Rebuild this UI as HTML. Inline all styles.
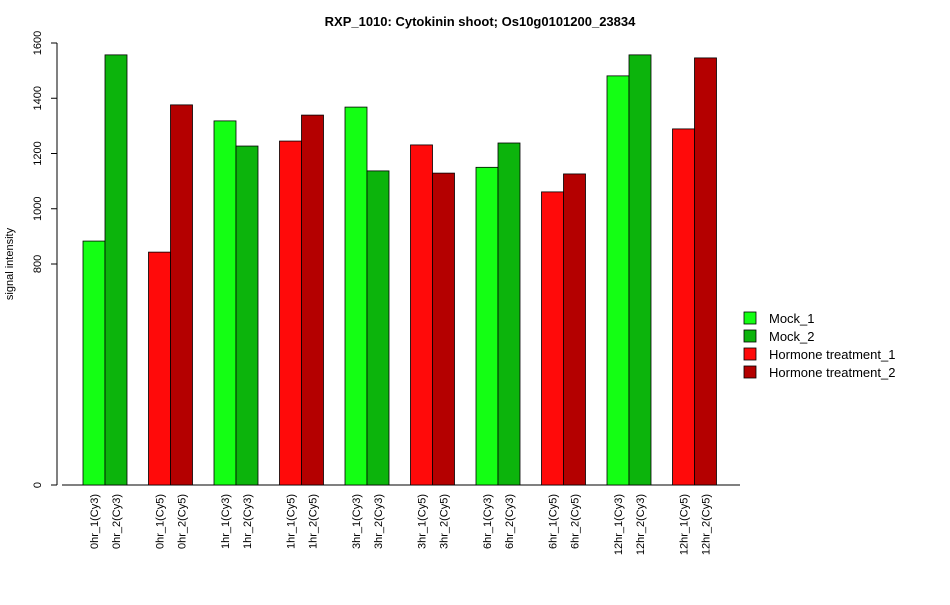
<!DOCTYPE html>
<html><head><meta charset="utf-8"><style>body{margin:0;background:#fff}svg{font-family:"Liberation Sans",sans-serif}</style></head>
<body>
<svg id="c" width="950" height="600">
<text x="480" y="26" text-anchor="middle" font-size="13" font-weight="bold">RXP_1010: Cytokinin shoot; Os10g0101200_23834</text>
<text transform="translate(13,264) rotate(-90)" text-anchor="middle" font-size="11">signal intensity</text>
</svg>
<script>
const categories=["0hr_1(Cy3)","0hr_2(Cy3)","0hr_1(Cy5)","0hr_2(Cy5)","1hr_1(Cy3)","1hr_2(Cy3)","1hr_1(Cy5)","1hr_2(Cy5)","3hr_1(Cy3)","3hr_2(Cy3)","3hr_1(Cy5)","3hr_2(Cy5)","6hr_1(Cy3)","6hr_2(Cy3)","6hr_1(Cy5)","6hr_2(Cy5)","12hr_1(Cy3)","12hr_2(Cy3)","12hr_1(Cy5)","12hr_2(Cy5)"];
const values=[883,1557,843,1376,1318,1227,1245,1339,1368,1137,1231,1129,1150,1238,1061,1126,1481,1557,1289,1546];
const seriesIndex=[0,1,2,3,0,1,2,3,0,1,2,3,0,1,2,3,0,1,2,3];
const seriesNames=["Mock_1","Mock_2","Hormone treatment_1","Hormone treatment_2"];
const colors=["#14ff14","#0cb40c","#ff0a0a","#b40000"];
const yTicks=[0,800,1000,1200,1400,1600];
const NS="http://www.w3.org/2000/svg",svg=document.getElementById('c');
function el(t,a,p){const e=document.createElementNS(NS,t);for(const k in a)e.setAttribute(k,a[k]);(p||svg).appendChild(e);return e;}
const y0=485,yTop=43,yMax=1600;
function ys(v){return y0-(v/yMax)*(y0-yTop);}
function xs(i){return 83+Math.floor(i/2)*65.5+(i%2)*22;}
const bw=22;
let a=el('line',{x1:57,x2:57,y1:ys(0),y2:ys(1600),stroke:'#000'});

yTicks.forEach(t=>{const l=el('line',{x1:51,x2:57,y1:ys(t),y2:ys(t),stroke:'#000'});

const tx=el('text',{transform:`translate(41,${ys(t)}) rotate(-90)`,'text-anchor':'middle','font-size':'11'});tx.textContent=t;
});
let b=el('line',{x1:62,x2:740,y1:y0,y2:y0,stroke:'#000'});

values.forEach((v,i)=>{const r=el('rect',{x:xs(i),y:ys(v),width:bw,height:y0-ys(v),fill:colors[seriesIndex[i]],stroke:'#000','stroke-width':0.8});

const cx=xs(i)+bw/2;const t=el('text',{transform:`translate(${cx+4},494) rotate(-90)`,'text-anchor':'end','font-size':'11'});t.textContent=categories[i];
});
seriesNames.forEach((n,i)=>{const g=el('g',{});
el('rect',{x:744,y:312+i*18,width:12,height:12,fill:colors[i],stroke:'#000','stroke-width':0.8},g);
const t=el('text',{x:769,y:323+i*18,'font-size':'13'},g);t.textContent=n;});
</script>
</body></html>
